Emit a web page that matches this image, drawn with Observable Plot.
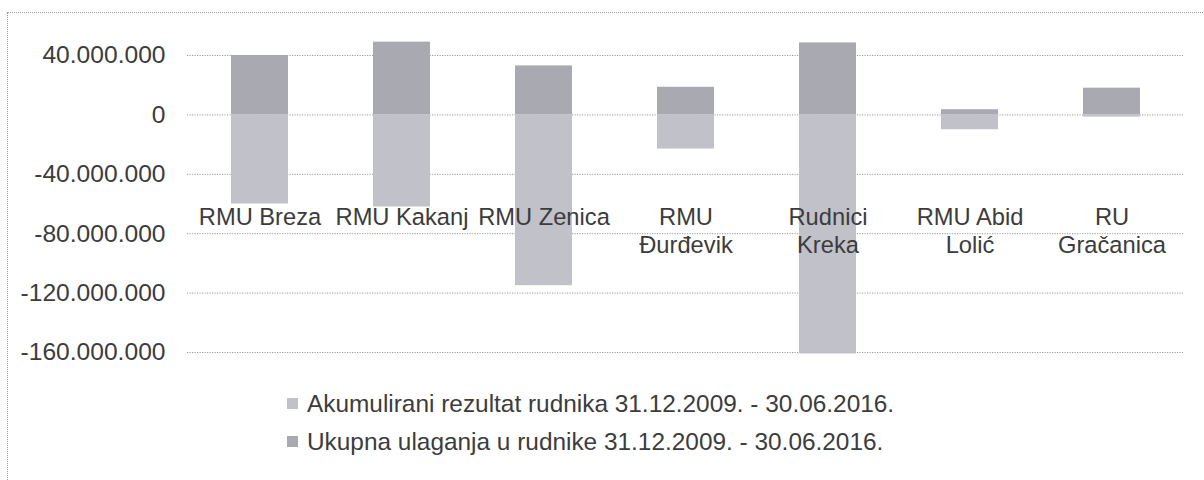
<!DOCTYPE html>
<html>
<head>
<meta charset="utf-8">
<script src="https://cdn.jsdelivr.net/npm/d3@7"></script>
<script src="https://cdn.jsdelivr.net/npm/@observablehq/plot@0.6"></script>
<style>
  html, body { margin: 0; padding: 0; background: #ffffff; }
  body { width: 1204px; height: 480px; position: relative; overflow: hidden;
         font-family: 'Liberation Sans', Arial, sans-serif; color: #3c3c3c; }
  #frame { position: absolute; left: 7px; top: 12px; width: 1210px; height: 490px;
           border: 1px dotted #9a9a9a; box-sizing: border-box; }
  #chart { position: absolute; left: 0; top: 0; }
  .lg-row { position: absolute; left: 307px; font-size: 24.4px; line-height: 27px; white-space: nowrap; }
  .lg-sw { position: absolute; left: 287px; width: 11px; height: 11px; }
</style>
</head>
<body>
<div id="frame"></div>
<div id="chart"></div>
<div id="legend"></div>
<script>
// ---- data ----
const categories = ["RMU Breza", "RMU Kakanj", "RMU Zenica", "RMU Đurđevik", "Rudnici Kreka", "RMU Abid Lolić", "RU Gračanica"];
const categoryLabels = ["RMU Breza", "RMU Kakanj", "RMU Zenica", "RMU\nĐurđevik", "Rudnici\nKreka", "RMU Abid\nLolić", "RU\nGračanica"];
const akumuliraniRezultat = [-60e6, -62e6, -115e6, -23e6, -161e6, -10e6, -1.5e6];
const ukupnaUlaganja = [40e6, 49e6, 33e6, 18.6e6, 48.5e6, 3.5e6, 18e6];
const yTicks = [-160e6, -120e6, -80e6, -40e6, 0, 40e6];
const seriesNames = ["Akumulirani rezultat rudnika 31.12.2009. - 30.06.2016.", "Ukupna ulaganja u rudnike 31.12.2009. - 30.06.2016."];
const seriesColors = ["#c1c1c9", "#a9a9b1"];

// ---- build ----
const table = categories.map((c, i) => ({category: c, akumulirani: akumuliraniRezultat[i], ulaganja: ukupnaUlaganja[i]}));
const labelMap = new Map(categories.map((c, i) => [c, categoryLabels[i]]));
const fmt = d3.formatLocale({decimal: ",", thousands: ".", grouping: [3], currency: ["", ""], minus: "-"}).format(",d");

const chart = Plot.plot({
  width: 1204,
  height: 380,
  marginLeft: 187,
  marginRight: 21,
  marginTop: 55,
  marginBottom: 28,
  style: {fontFamily: "'Liberation Sans', Arial, sans-serif", fontSize: "23.5px", color: "#3c3c3c", background: "transparent", overflow: "visible"},
  x: {domain: categories, paddingInner: 0.6, paddingOuter: 0.3, axis: null},
  y: {domain: [-160e6, 40e6], axis: null},
  marks: [
    Plot.gridY(yTicks, {stroke: "#999999", strokeOpacity: 1, strokeDasharray: "1.2,1.3"}),
    Plot.barY(table, {x: "category", y: "ulaganja", fill: seriesColors[1]}),
    Plot.barY(table, {x: "category", y: "akumulirani", fill: seriesColors[0]}),
    Plot.axisY(yTicks, {tickSize: 0, tickPadding: 22, tickFormat: fmt, fontSize: 24.6, fill: "#3c3c3c", label: null}),
    Plot.axisX({anchor: "bottom", tickSize: 0, tickPadding: 0, dy: -147, tickFormat: d => labelMap.get(d), lineHeight: 1.17, fontSize: 23.7, fill: "#3c3c3c", label: null})
  ]
});
document.getElementById("chart").appendChild(chart);

// ---- legend ----
const legend = document.getElementById("legend");
const rowTops = [390, 428];
seriesNames.forEach((name, i) => {
  const sw = document.createElement("div");
  sw.className = "lg-sw";
  sw.style.top = (rowTops[i] + 8) + "px";
  sw.style.background = seriesColors[i];
  legend.appendChild(sw);
  const t = document.createElement("div");
  t.className = "lg-row";
  t.style.top = rowTops[i] + "px";
  t.textContent = name;
  legend.appendChild(t);
});
</script>
</body>
</html>
